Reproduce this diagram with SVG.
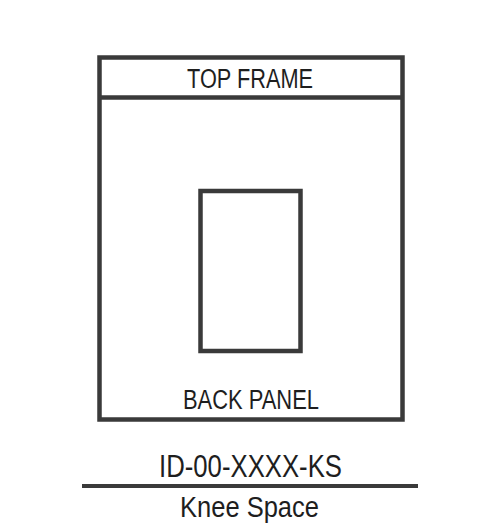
<svg xmlns="http://www.w3.org/2000/svg" width="500" height="532" viewBox="0 0 500 532">
<style>
.s{fill:none;stroke:#3a3a3a;stroke-width:4.5}
.t{font-family:"Liberation Sans",Arial,sans-serif;fill:#1e1e1e;text-anchor:middle}
</style>
<rect width="500" height="532" fill="#fff"/>
<g id="cabinet">
<rect class="s" x="99.5" y="57.5" width="303" height="362"/>
</g>
<g id="top-frame">
<line class="s" x1="99.5" y1="97.5" x2="402.5" y2="97.5"/>
<text class="t" x="250" y="88" font-size="27" textLength="126" lengthAdjust="spacingAndGlyphs">TOP FRAME</text>
</g>
<g id="opening">
<rect class="s" x="200.5" y="191" width="100" height="160"/>
</g>
<g id="back-panel">
<text class="t" x="251" y="409" font-size="27" textLength="136" lengthAdjust="spacingAndGlyphs">BACK PANEL</text>
</g>
<g id="title">
<text class="t" x="250.5" y="477" font-size="32" textLength="183" lengthAdjust="spacingAndGlyphs">ID-00-XXXX-KS</text>
<line x1="82" y1="486" x2="418" y2="486" stroke="#3a3a3a" stroke-width="4"/>
<text class="t" x="249.5" y="517" font-size="29" textLength="139" lengthAdjust="spacingAndGlyphs">Knee Space</text>
</g>
</svg>
